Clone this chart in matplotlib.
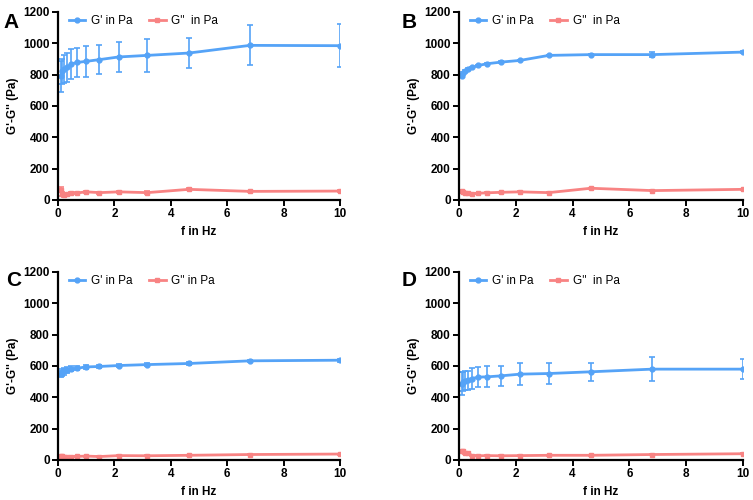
import matplotlib
matplotlib.use("Agg")
import matplotlib.pyplot as plt
from matplotlib.lines import Line2D
import numpy as np

plt.rcParams['font.family'] = ['Liberation Sans', 'DejaVu Sans']

freq = [0.1, 0.147, 0.215, 0.316, 0.464, 0.681, 1.0, 1.47, 2.15, 3.16, 4.64, 6.81, 10.0]

# Panel A
A_gp = [789, 821, 838, 846, 868, 878, 885, 896, 913, 923, 938, 987, 985]
A_gp_err = [100, 82, 90, 92, 94, 93, 97, 92, 95, 103, 93, 127, 137]
A_gpp = [66, 40, 30, 38, 42, 45, 52, 47, 52, 47, 68, 55, 57]
A_gpp_err = [15, 12, 8, 8, 8, 8, 6, 6, 6, 8, 6, 5, 5]

# Panel B
B_gp = [793, 810, 825, 838, 846, 859, 870, 880, 891, 923, 928, 928, 944]
B_gp_err = [10, 8, 6, 6, 5, 5, 5, 5, 5, 5, 5, 15, 6]
B_gpp = [58, 50, 45, 43, 40, 43, 46, 49, 52, 47, 75, 60, 68]
B_gpp_err = [8, 5, 4, 4, 4, 3, 3, 3, 3, 3, 4, 4, 4]

# Panel C
C_gp = [548, 560, 567, 573, 582, 586, 594, 597, 603, 609, 616, 633, 637]
C_gp_err = [18, 22, 22, 20, 16, 14, 13, 12, 10, 8, 10, 6, 10]
C_gpp = [25, 28, 22, 20, 22, 23, 25, 22, 28, 27, 30, 35, 38]
C_gpp_err = [6, 5, 4, 3, 3, 3, 3, 3, 3, 3, 3, 3, 3]

# Panel D
D_gp = [488, 499, 505, 510, 520, 529, 531, 537, 548, 552, 563, 580, 580]
D_gp_err = [75, 60, 60, 60, 69, 62, 68, 66, 72, 70, 58, 78, 65]
D_gpp = [60, 57, 45, 45, 27, 27, 28, 27, 28, 30, 30, 35, 40]
D_gpp_err = [5, 5, 4, 4, 4, 3, 3, 3, 3, 3, 3, 3, 3]

panels = [
    ("A", A_gp, A_gp_err, A_gpp, A_gpp_err, "G''  in Pa"),
    ("B", B_gp, B_gp_err, B_gpp, B_gpp_err, "G''  in Pa"),
    ("C", C_gp, C_gp_err, C_gpp, C_gpp_err, "G'' in Pa"),
    ("D", D_gp, D_gp_err, D_gpp, D_gpp_err, "G''  in Pa"),
]

blue = '#55a3f7'
red = '#f88383'

fig = plt.figure(figsize=(7.53, 5.0), dpi=100)
positions = [
    [0.077, 0.600, 0.3745, 0.376],
    [0.6096, 0.600, 0.377, 0.376],
    [0.077, 0.080, 0.3745, 0.376],
    [0.6096, 0.080, 0.377, 0.376],
]
letter_pos = [(0.005, 0.975), (0.533, 0.975), (0.008, 0.458), (0.533, 0.458)]

for (letter, gp, gpe, gpp, gppe, lab2), pos, lp in zip(panels, positions, letter_pos):
    ax = fig.add_axes(pos)
    ax.errorbar(freq, gp, yerr=gpe, color=blue, lw=2, marker='o', ms=3.5,
                elinewidth=1.2, capsize=2.5, capthick=1.2)
    ax.errorbar(freq, gpp, yerr=gppe, color=red, lw=2, marker='s', ms=3.5,
                elinewidth=1.2, capsize=2.5, capthick=1.2)
    ax.set_xlim(0, 10)
    ax.set_ylim(0, 1200)
    ax.set_xticks(np.arange(0, 11, 2))
    ax.set_yticks(np.arange(0, 1201, 200))
    for s in ['top', 'right']:
        ax.spines[s].set_visible(False)
    for s in ['left', 'bottom']:
        ax.spines[s].set_linewidth(1.6)
    ax.tick_params(width=1.4, length=4, labelsize=8.5, pad=2)
    for t in ax.get_xticklabels() + ax.get_yticklabels():
        t.set_fontweight('bold')
    ax.set_xlabel('f in Hz', fontsize=8.5, fontweight='bold', labelpad=4)
    ax.set_ylabel("G'-G'' (Pa)", fontsize=8.5, fontweight='bold', labelpad=3)
    handles = [Line2D([], [], color=blue, lw=2, marker='o', ms=3.5),
               Line2D([], [], color=red, lw=2, marker='s', ms=3.5)]
    ax.legend(handles, ["G' in Pa", lab2], loc='upper left', bbox_to_anchor=(0.0, 1.04), ncol=2,
              frameon=False, fontsize=8.5, handlelength=1.4, columnspacing=1.4,
              handletextpad=0.5)
    fig.text(lp[0], lp[1], letter, fontsize=15, fontweight='bold', va='top', ha='left')

fig.savefig('out.png', dpi=100)
